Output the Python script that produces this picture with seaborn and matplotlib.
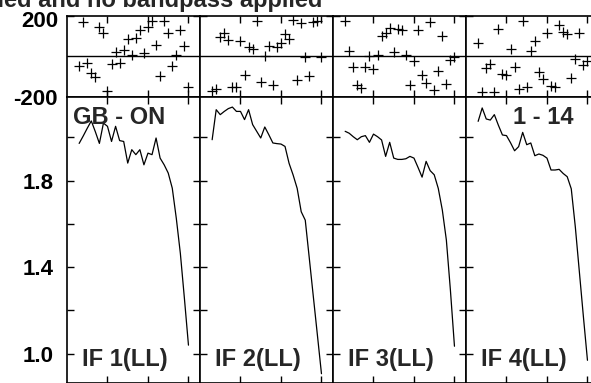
import matplotlib
matplotlib.use("Agg")
import matplotlib.pyplot as plt
import matplotlib.transforms as mtransforms
import seaborn as sns

# spectral channels shown on every panel
channels = [3, 4, 5, 6, 7, 8, 9, 10, 11, 12, 13, 14, 15, 16,
            17, 18, 19, 20, 21, 22, 23, 24, 25, 26, 27, 28, 29, 30]

if_labels = ["IF 1(LL)", "IF 2(LL)", "IF 3(LL)", "IF 4(LL)"]

# phase (degrees) per IF
phase_if1 = [-49, 168, -36, -82, -102, 146, 115, -174, -40, 23, -33, 31, 86, 7,
             91, 128, 15, 145, 173, 54, -99, 176, 114, -46, 8, 127, 51, -153]
phase_if2 = [-173, -160, 94, 114, 81, -150, -150, 77, -92, 44, 38, 176, -125, 3,
             49, -142, 43, 64, 110, 84, 179, -117, 163, -2, -100, 170, 176, -2]
phase_if3 = [176, 25, -51, -140, -156, -51, 0, -63, 8, 102, 114, 140, 20, 133,
             127, 7, -142, -26, 130, -95, -132, 168, -168, -74, 102, -138, -21, -5]
phase_if4 = [66, -178, -59, -38, -178, 132, -87, -95, 38, -51, -160, 176, -153, 25,
             74, -79, -114, 115, -145, -153, 155, 119, 110, -109, -13, 115, -43, -25]

# amplitude per IF
amp_if1 = [1.972, 2.006, 2.042, 2.076, 2.026, 1.972, 2.066, 2.051, 1.981, 2.051,
           1.985, 1.981, 1.881, 1.943, 1.920, 1.943, 1.873, 1.927, 1.920, 1.997,
           1.904, 1.873, 1.835, 1.765, 1.625, 1.463, 1.255, 1.039]
amp_if2 = [1.989, 2.128, 2.105, 2.120, 2.133, 2.140, 2.120, 2.120, 2.082, 2.128,
           2.059, 2.028, 1.997, 2.048, 2.012, 1.974, 1.971, 1.969, 1.958, 1.880,
           1.826, 1.764, 1.656, 1.617, 1.440, 1.262, 1.085, 0.907]
amp_if3 = [2.028, 2.019, 2.003, 1.989, 2.003, 2.008, 1.977, 2.015, 2.003, 1.988,
           1.912, 1.977, 1.904, 1.898, 1.898, 1.901, 1.912, 1.904, 1.861, 1.816,
           1.889, 1.846, 1.827, 1.764, 1.664, 1.525, 1.293, 1.034]
amp_if4 = [2.074, 2.136, 2.085, 2.080, 2.105, 2.056, 2.011, 2.008, 1.975, 1.938,
           1.957, 2.023, 1.966, 1.974, 1.915, 1.923, 1.917, 1.904, 1.849, 1.849,
           1.852, 1.833, 1.818, 1.762, 1.586, 1.378, 1.170, 0.969]

phases = [phase_if1, phase_if2, phase_if3, phase_if4]
amps = [amp_if1, amp_if2, amp_if3, amp_if4]

sns.set_style("ticks")
plt.rcParams["font.family"] = ["Liberation Sans", "DejaVu Sans"]
plt.rcParams["font.weight"] = "bold"
plt.rcParams["axes.unicode_minus"] = False

W, H = 591, 383
fig = plt.figure(figsize=(W / 100, H / 100), dpi=100)


def px_axes(left, top, width, height):
    return fig.add_axes([left / W, (H - top - height) / H, width / W, height / H])


def style_frame(ax):
    for sp in ax.spines.values():
        sp.set_color("black")
        sp.set_linewidth(1.2)
    ax.tick_params(which="both", direction="in", length=5, width=1,
                   top=True, bottom=True, left=True, right=True,
                   labelbottom=False, labeltop=False, labelright=False,
                   labelsize=16, colors="black")


col_left = [67, 200, 333, 466]
col_w = 133
xmax = 32.85

for i in range(4):
    # phase panel
    ph = px_axes(col_left[i], 15.7, col_w, 81)
    sns.scatterplot(x=channels, y=phases[i], marker="+", color="black",
                    s=45, linewidth=0.9, ax=ph, legend=False)
    ph.axhline(0, color="black", lw=1)
    ph.set_xlim(0, xmax)
    ph.set_ylim(-200, 200)
    ph.set_xticks([10, 20, 30])
    ph.set_yticks([-200, 200])
    style_frame(ph)
    ph.tick_params(axis="y", pad=6.5, labelleft=(i == 0))
    ph.set_xlabel("")
    ph.set_ylabel("")
    if i == 0:
        for lab in ph.get_yticklabels():
            if lab.get_text() == "200":
                # nudge the top label down a little, as in the original
                lab.set_transform(lab.get_transform() + mtransforms.ScaledTranslation(0, -3.6 / 100, fig.dpi_scale_trans))

    # amplitude panel
    am = px_axes(col_left[i], 96.7, col_w, 286.3)
    sns.lineplot(x=channels, y=amps[i], color="black", lw=0.9, ax=am)
    am.set_xlim(0, xmax)
    am.set_ylim(0.864, 2.188)
    am.set_xticks([10, 20, 30])
    am.set_yticks([1.0, 1.4, 1.8])
    am.set_yticks([1.2, 1.6, 2.0], minor=True)
    am.set_yticklabels(["1.0", "1.4", "1.8"])
    style_frame(am)
    am.tick_params(axis="y", which="both", pad=9.9, labelleft=(i == 0))
    am.set_xlabel("")
    am.set_ylabel("")

    am.text(0.113, 0.059, if_labels[i], transform=am.transAxes,
            fontsize=17, fontweight="bold", ha="left", va="baseline")
    if i == 0:
        am.text(0.045, 0.905, "GB - ON", transform=am.transAxes,
                fontsize=17, fontweight="bold", ha="left", va="baseline")
    if i == 3:
        am.text(0.805, 0.905, "1 - 14", transform=am.transAxes,
                fontsize=17, fontweight="bold", ha="right", va="baseline")

# the plot title runs off the left edge in the original as well
fig.text(322 / W, 1 - 7 / H, "Calibration applied and no bandpass applied",
         ha="right", va="baseline", fontsize=17, fontweight="bold")

fig.savefig("out.png", dpi=100)
